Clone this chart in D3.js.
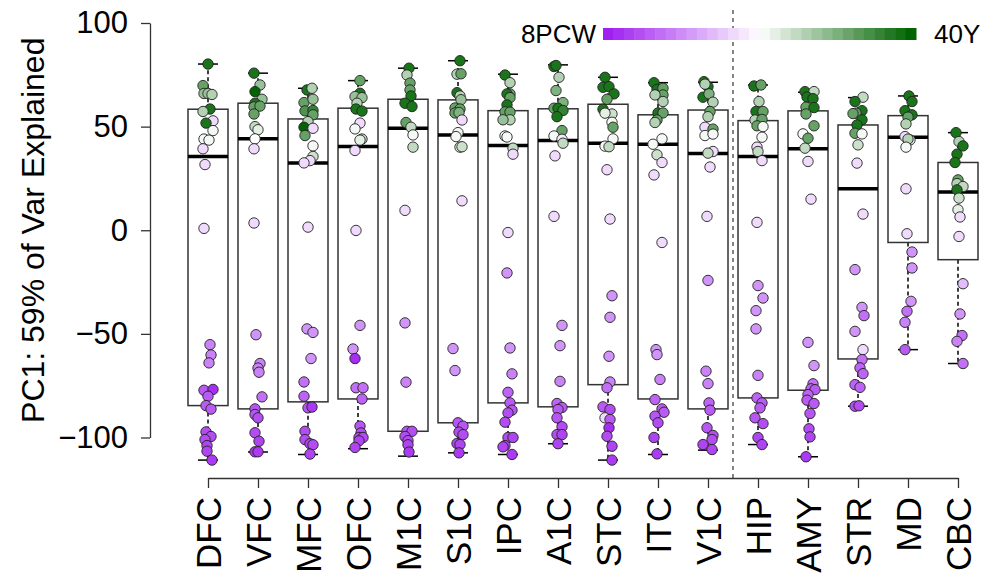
<!DOCTYPE html>
<html>
<head>
<meta charset="utf-8">
<script src="https://cdn.jsdelivr.net/npm/d3@7"></script>
<style>
    body { margin: 0; background: #fff; }
    #chart { width: 989px; height: 581px; }
    text { font-family: "Liberation Sans", Arial, sans-serif; fill: #000; }
</style>
</head>
<body>
<div id="chart"></div>
<script>
const regions = ["DFC", "VFC", "MFC", "OFC", "M1C", "S1C", "IPC", "A1C", "STC", "ITC", "V1C", "HIP", "AMY", "STR", "MD", "CBC"];
const yTicks = [-100, -50, 0, 50, 100];

// box stats
const boxUpper = [58.4, 61.3, 53.7, 58.9, 63.2, 62.9, 57.7, 58.6, 60.8, 55.7, 58, 52.9, 57.6, 50.8, 55.3, 32.7];
const boxMedian = [35.6, 44.1, 32.5, 40.4, 49.2, 46, 40.9, 43.3, 42, 41.5, 37, 35.6, 39.3, 20, 44.9, 18.4];
const boxLower = [-84.6, -86.2, -82.8, -81.4, -97, -92.9, -83.3, -85.2, -74.5, -81.4, -86.2, -80.9, -77.2, -62.1, -5.9, -14.2];
const whiskerHigh = [80.2, 75.8, 68.5, 72.2, 78.2, 81.8, 75.3, 79.8, 73.8, 71.2, 71.4, 70.1, 66.6, 64, 64.8, 47.1];
const whiskerLow = [-110.9, -107, -108.2, -105.4, -109, -107.4, -108.2, -103, -110.9, -108.2, -106.1, -103.4, -109.3, -84.9, -57.6, -64.3];

// samples per region: [PC1 value, age (0 = 8PCW, 1 = 40Y), jitter]
const samples = {
    DFC: [[80.2,.95,0],[69.8,.8,-.25],[66,.7,-.2],[66,.7,0],[65.5,.65,.2],[58.5,.95,.1],[57.3,.65,-.25],[52.8,.42,.25],[51.7,.95,-.1],[48.1,.52,.25],[44,.52,-.2],[43.5,.52,.05],[39.3,.42,-.25],[31.7,.42,-.15],[0.9,.42,-.2],[-55.2,.22,.1],[-60.2,.22,.15],[-64,.22,.05],[-77.2,.13,-.2],[-76.8,.03,.25],[-80.1,.13,0],[-84.6,.13,-.1],[-86.3,.13,.15],[-97.3,.1,-.1],[-99.5,.1,.15],[-101,.1,-.15],[-103.9,.08,-.05],[-106.6,.08,-.05],[-110.9,.06,.2]],
    VFC: [[75.8,.95,-.2],[70.1,.7,.1],[66.9,1,-.15],[63.2,.7,.2],[61.3,.95,-.15],[59.5,.8,-.2],[59.9,.8,.1],[56.1,.8,-.2],[50,.62,-.15],[48.5,.55,0],[44.1,.5,-.15],[39.3,.42,-.2],[3.5,.42,-.2],[-50.4,.26,-.1],[-64.3,.22,.1],[-66.5,.22,0],[-68.5,.22,.05],[-80.4,.18,.2],[-86.2,.12,-.15],[-88.9,.12,-.15],[-90.5,.1,0],[-97.7,.1,-.15],[-101.8,.08,.05],[-106.9,.06,-.15],[-106.9,.06,0]],
    MFC: [[67.7,.95,-.05],[68.5,.65,.2],[61.6,.8,-.2],[63.2,.7,.25],[57.6,.85,-.15],[57.8,.9,.25],[55.7,.8,.25],[52.4,.65,0],[49.7,1,-.2],[49.2,.42,.25],[45.7,.8,-.15],[40.7,.52,.25],[35.6,.6,.25],[33.6,.42,.1],[32.5,.42,-.2],[1.5,.42,0],[-47.6,.26,-.05],[-49.3,.26,.25],[-61.9,.26,.15],[-73.2,.18,-.2],[-80.1,.15,-.2],[-85.7,.12,0],[-85.3,.06,.2],[-97,.1,-.15],[-101,.1,-.15],[-103,.08,.1],[-103.5,.1,.25],[-108,.08,.1]],
    OFC: [[72.2,.8,.1],[66.1,.95,.1],[64.5,.7,-.15],[64,.7,.2],[61.3,.65,-.05],[58.5,.95,-.1],[57.5,.95,.2],[51.7,.42,.1],[48.9,.52,-.15],[44,.62,.2],[43.5,.55,.1],[38.5,.42,-.15],[-0.1,.42,-.1],[-45.9,.26,.1],[-57.3,.26,-.25],[-61.9,.03,-.15],[-76,.18,-.1],[-76,.18,.25],[-81.4,.15,.2],[-94.5,.12,.1],[-97.8,.1,.15],[-100,.1,.05],[-100,.1,.25],[-101.6,.08,.05],[-104.8,.08,-.15]],
    M1C: [[78.2,.95,.05],[74.9,.65,-.05],[71,.8,.1],[67.7,.8,.1],[64.8,.95,.15],[61.3,.95,-.15],[59.7,.95,.2],[52,.8,-.1],[49.7,.62,.15],[46,.52,.25],[40.1,.62,.25],[9.6,.42,-.15],[-44.7,.26,-.15],[-73.3,.22,-.1],[-97,.12,-.05],[-97,.1,.2],[-99.5,.1,-.15],[-101.5,.1,0],[-103.5,.08,0],[-107,.06,.05]],
    S1C: [[81.8,.95,.1],[75.3,.65,-.05],[75.5,.8,.15],[66.4,.95,-.05],[64.8,.65,.1],[63,.7,.15],[59,.8,-.15],[58.5,.8,.1],[56.6,.8,-.15],[56.8,.75,.05],[53.2,.42,.2],[47.1,.52,0],[45.2,.52,-.1],[40.1,.55,.1],[40.3,.6,.2],[14.2,.42,.2],[-57.1,.26,-.25],[-67.7,.26,-.15],[-92.9,.12,0],[-94.5,.12,.25],[-97.4,.1,.05],[-98.6,.1,.25],[-102.9,.08,-.05],[-103.4,.08,.1],[-107.4,.06,.05]],
    IPC: [[74.9,.95,-.15],[71.2,.65,.1],[65.8,.8,.1],[65.8,.95,-.05],[64,.8,.1],[60.5,.95,-.05],[57.1,.8,-.15],[57,.8,.1],[53.3,.65,.1],[53.3,.7,-.25],[45.5,.52,-.15],[45,.52,-.05],[39.6,.62,.25],[36.7,.42,.25],[-1.1,.42,0],[-20.6,.26,-.05],[-56.8,.26,.1],[-69.3,.22,.2],[-78.2,.15,0],[-83.3,.13,.1],[-86.8,.12,.2],[-88.1,.1,0],[-92.6,.1,-.15],[-100,.1,0],[-100,.08,.25],[-103.9,.08,-.15],[-104.5,.08,-.25],[-108.2,.06,.2]],
    A1C: [[79,.95,-.2],[79.5,.95,-.1],[73.8,.65,.05],[67.4,.75,-.1],[61.6,.75,.25],[58.9,.8,-.2],[58.9,.95,0],[57.8,.9,.25],[54.8,.95,-.05],[48.1,.8,.2],[45.5,.52,-.2],[43.9,.45,.2],[42,.62,.25],[35.9,.42,-.15],[6.7,.42,-.2],[-45.9,.26,.2],[-55.7,.26,.1],[-72.9,.22,.1],[-83.6,.15,-.05],[-85.5,.13,.2],[-86.5,.13,0],[-90.5,.12,-.05],[-94.8,.1,.2],[-98.6,.1,-.05],[-98.6,.08,.2],[-103,.08,0]],
    STC: [[73.8,.95,-.15],[69,.95,-.25],[69.3,.95,.05],[65.8,.95,.3],[63.2,.8,-.05],[58.4,.95,-.25],[56.1,.6,.2],[56.5,.55,-.15],[52.1,.52,.2],[49.7,.8,.25],[44.1,.52,.25],[40.6,.52,-.15],[40.3,.62,.05],[29.2,.42,-.05],[5.4,.42,.1],[-31.6,.26,.2],[-42,.26,.1],[-60.8,.26,.05],[-73.2,.22,.1],[-76,.18,-.05],[-85.2,.13,-.25],[-86.5,.1,.1],[-90.5,.42,-.15],[-91.3,.13,.1],[-95.3,.03,.05],[-99.4,.1,-.05],[-104.2,.08,.2],[-110.9,.06,.2]],
    ITC: [[71.2,.95,-.2],[68,.95,-.05],[68.5,.8,.25],[65.3,.8,.25],[65.3,.65,-.15],[62.1,.65,.25],[56.6,.95,0],[56.6,.8,.25],[53.2,.8,-.05],[52,.65,-.15],[44.1,.52,.2],[41.5,.52,-.25],[36.4,.6,-.05],[32.7,.42,.2],[26.7,.42,-.2],[-5.9,.42,.2],[-57.6,.26,-.1],[-60,.26,-.05],[-72,.22,.1],[-81.7,.15,-.15],[-86.2,.13,.2],[-87.8,.13,.3],[-89.7,.12,-.15],[-92.9,.1,0],[-100,.08,-.2],[-107.9,.06,-.05]],
    V1C: [[71.7,.95,-.2],[69.3,.95,0],[64.2,.95,-.25],[65.8,.75,.05],[70.5,.65,-.15],[61.8,.65,.25],[57.3,.8,.1],[54.8,.65,0],[49.7,.42,-.15],[48.8,.8,.25],[45.7,.52,-.15],[46.4,.52,.25],[38,.42,.25],[37.2,.62,0],[30.5,.42,.1],[6.7,.42,-.05],[-24.2,.26,0],[-68,.22,-.1],[-74,.22,0],[-83.3,.15,.05],[-86.8,.13,.1],[-95.3,.12,-.05],[-99,.1,.25],[-101,.1,.2],[-103.4,.08,-.25],[-105.8,.08,.2]],
    HIP: [[69.6,.95,-.2],[70.1,.8,.15],[62.1,.65,.05],[57.3,.95,-.1],[57.3,.8,.25],[53.2,.65,-.15],[53.5,.8,.2],[50.4,.8,-.05],[50,.52,.25],[44.9,.52,.2],[40.1,.42,-.05],[38,.62,0],[33.6,.42,.2],[3.8,.42,-.05],[-26.7,.26,0],[-32.7,.26,.25],[-38.8,.26,-.1],[-47.6,.26,-.1],[-70,.22,0],[-80.9,.15,-.05],[-83.3,.13,.2],[-85.7,.13,.1],[-90.5,.12,-.15],[-93.3,.1,.25],[-100,.08,0],[-103.4,.08,.2]],
    AMY: [[66.9,.95,-.15],[66.9,.62,.3],[64.3,.95,-.05],[63.5,.95,.25],[59.4,.8,-.1],[59.2,.95,.3],[56.1,.8,-.1],[50.4,.8,.3],[46.5,.52,-.25],[44.4,.8,0],[39.6,.62,-.15],[33.2,.42,0],[15,.42,.15],[-54.1,.26,0],[-65.3,.26,.3],[-74.1,.18,.25],[-76.5,.15,.15],[-76.9,.13,.35],[-79.3,.15,0],[-82,.13,-.05],[-83.6,.13,.3],[-88.4,.12,.1],[-95.8,.1,.05],[-99.7,.08,.1],[-109.3,.06,-.1]],
    STR: [[64.2,.62,.25],[62.1,.95,-.15],[57.7,.95,.2],[56.5,.8,-.1],[56.3,.8,-.25],[53.3,.95,.2],[50.8,.95,-.05],[46.8,.8,-.15],[46.5,.52,.2],[41.2,.6,0],[32.4,.42,-.05],[7.8,.42,.25],[-19,.26,-.15],[-37.2,.26,.2],[-41.2,.18,.3],[-48.8,.26,-.15],[-57.6,.42,.25],[-62.4,.18,.2],[-66.4,.15,.1],[-69.2,.15,.25],[-74.5,.15,-.15],[-75.8,.15,.1],[-84.9,.1,-.15],[-84.7,.1,.05]],
    MD: [[64.8,.95,.05],[62.1,.95,.2],[57.7,.95,-.15],[55.7,.95,.2],[54.6,.8,0],[51.3,.65,-.1],[45.2,.42,-.15],[43.6,.55,.1],[44,.65,0],[40.1,.52,-.1],[20,.42,-.1],[-1.7,.42,-.05],[-10.5,.26,.2],[-18.2,.26,.2],[-34.3,.26,.15],[-39.1,.18,-.05],[-44.4,.22,-.15],[-57.6,.13,-.15]],
    CBC: [[47.1,.95,-.1],[42.8,.65,.05],[40.7,.95,.25],[36.7,.95,-.05],[32.7,.95,-.15],[24.3,.8,0],[22.5,.65,-.05],[21.1,.62,.25],[19.5,.95,-.05],[15.5,.6,.05],[9.9,.55,0],[6.4,.42,.1],[-3,.42,.05],[-25.8,.35,.25],[-40.4,.26,.1],[-50.8,.18,.2],[-53.6,.22,-.05],[-64.3,.18,.25]]
};

const legendLabels = ["8PCW", "40Y"];
const legendSteps = d3.range(30);
const cortexCount = 11;

const width = 989;
const height = 581;
const margin = {top: 23, left: 150, right: 31, bottom: 143};

const svg = d3.select("#chart")
    .append("svg")
    .attr("width", width)
    .attr("height", height);

const ageColor = d3.piecewise(d3.interpolateRgb, ["#a020f0", "#ffffff", "#006400"]);

const xScale = d3.scalePoint()
    .domain(regions)
    .range([208, 958]);

const yScale = d3.scaleLinear()
    .domain([-100, 100])
    .range([height - margin.bottom - 0.5, margin.top]);

const boxW = 40;

const boxes = regions.map((r, i) => ({
    region: r,
    upper: boxUpper[i],
    median: boxMedian[i],
    lower: boxLower[i],
    hi: whiskerHigh[i],
    lo: whiskerLow[i]
}));

// separator between cortex and subcortical regions
const sepX = (xScale(regions[cortexCount - 1]) + xScale(regions[cortexCount])) / 2;
svg.append("line")
    .attr("x1", sepX).attr("x2", sepX)
    .attr("y1", 10).attr("y2", 478)
    .attr("stroke", "#444")
    .attr("stroke-width", 1.3)
    .attr("stroke-dasharray", "4,4");

const g = svg.selectAll(".box")
    .data(boxes)
    .enter()
    .append("g")
    .attr("class", "box")
    .attr("transform", d => `translate(${xScale(d.region)},0)`);

g.append("line")
    .attr("x1", 0).attr("x2", 0)
    .attr("y1", d => yScale(d.upper)).attr("y2", d => yScale(d.hi))
    .attr("stroke", "#000").attr("stroke-width", 1.5).attr("stroke-dasharray", "4,3");
g.append("line")
    .attr("x1", 0).attr("x2", 0)
    .attr("y1", d => yScale(d.lower)).attr("y2", d => yScale(d.lo))
    .attr("stroke", "#000").attr("stroke-width", 1.5).attr("stroke-dasharray", "4,3");
g.selectAll(".cap")
    .data(d => [d.hi, d.lo])
    .enter()
    .append("line")
    .attr("x1", -boxW / 4).attr("x2", boxW / 4)
    .attr("y1", d => yScale(d)).attr("y2", d => yScale(d))
    .attr("stroke", "#000").attr("stroke-width", 1.5);

g.append("rect")
    .attr("x", -boxW / 2)
    .attr("width", boxW)
    .attr("y", d => yScale(d.upper))
    .attr("height", d => yScale(d.lower) - yScale(d.upper))
    .attr("fill", "#fff")
    .attr("stroke", "#333")
    .attr("stroke-width", 1.5);

g.append("line")
    .attr("x1", -boxW / 2).attr("x2", boxW / 2)
    .attr("y1", d => yScale(d.median)).attr("y2", d => yScale(d.median))
    .attr("stroke", "#000").attr("stroke-width", 3.5);

g.selectAll("circle")
    .data(d => samples[d.region])
    .enter()
    .append("circle")
    .attr("cx", d => d[2] * boxW / 2)
    .attr("cy", d => yScale(d[0]))
    .attr("r", 5.2)
    .attr("fill", d => ageColor(d[1]))
    .attr("stroke", "#222")
    .attr("stroke-width", 0.9);

// axes
const yAxis = svg.append("g")
    .attr("transform", `translate(${margin.left},0)`)
    .call(d3.axisLeft(yScale).tickValues(yTicks).tickSize(9).tickSizeOuter(0).tickPadding(13));
yAxis.selectAll("text").style("font-size", "31px");

const xAxis = svg.append("g")
    .attr("transform", "translate(0,478)")
    .call(d3.axisBottom(xScale).tickSize(10).tickSizeOuter(0));
xAxis.selectAll("text")
    .attr("transform", "rotate(-90)")
    .attr("text-anchor", "end")
    .attr("x", -19)
    .attr("y", 0)
    .attr("dy", "0.36em")
    .style("font-size", "35px");

svg.selectAll(".domain, .tick line").attr("stroke", "#333").attr("stroke-width", 1.3);

svg.append("text")
    .attr("transform", `translate(44,${yScale(0)}) rotate(-90)`)
    .attr("text-anchor", "middle")
    .style("font-size", "32px")
    .text("PC1: 59% of Var Explained");

// age legend
const legendX = d3.scaleBand()
    .domain(legendSteps)
    .range([603, 916]);

svg.selectAll(".leg")
    .data(legendSteps)
    .enter()
    .append("rect")
    .attr("x", d => legendX(d))
    .attr("width", legendX.bandwidth() + 0.5)
    .attr("y", 28)
    .attr("height", 12)
    .attr("fill", d => ageColor(d / (legendSteps.length - 1)));

svg.append("text")
    .attr("x", 596).attr("y", 43)
    .attr("text-anchor", "end")
    .style("font-size", "26px")
    .text(legendLabels[0]);
svg.append("text")
    .attr("x", 934).attr("y", 43)
    .style("font-size", "26px")
    .text(legendLabels[1]);
</script>
</body>
</html>
